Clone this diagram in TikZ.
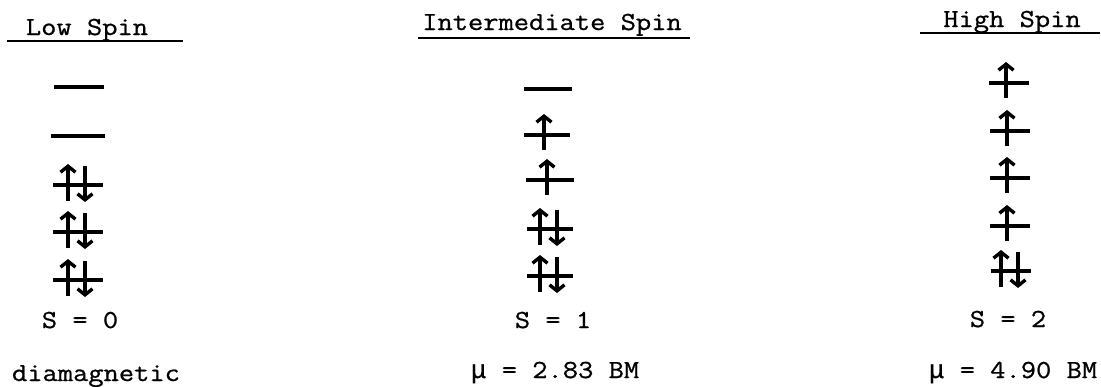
\documentclass[tikz,border=0pt]{standalone}
\usepackage{fontspec}
\newfontfamily\twfont{Latin Modern Mono}[FakeBold=0.8,FakeStretch=1.14]
\newfontfamily\mufont{Liberation Mono}[FakeBold=0.6]
\usetikzlibrary{arrows.meta}
\tikzset{
  hw/.store in=\hw, hw=25,
  lvl/.style={line width=4.4pt},
  spin/.style={line width=3.4pt, -{Straight Barb[length=6pt,width=15pt,line width=3.4pt]}},
  lbl/.style={font=\twfont\fontsize{26}{30}\selectfont, inner sep=0pt, anchor=base},
  uline/.style={line width=2pt},
  pics/orbE/.style={code={\draw[lvl] (-\hw,0) -- (\hw,0);}},
  pics/orbU/.style={code={\draw[lvl] (-\hw,0) -- (\hw,0);
      \draw[spin] (-3,15) -- (-3,-21);}},
  pics/orbP/.style={code={\draw[lvl] (-\hw,0) -- (\hw,0);
      \draw[spin] (-10,16) -- (-10,-21);
      \draw[spin] (7,-19) -- (7,17);}}
}
\begin{document}
\begin{tikzpicture}[x=1pt,y=-1pt]
\useasboundingbox (0,0) rectangle (1101,386);
% titles
\node[lbl] (tLow) at (87,35) {Low Spin};
\draw[uline] (7,41) -- (183,41);
\node[lbl] (tInt) at (552,30) {Intermediate Spin};
\draw[uline] (418,38) -- (690,38);
\node[lbl] (tHigh) at (1012,27) {High Spin};
\draw[uline] (920,33) -- (1100,33);
% low spin
\pic[hw=25] at (79,87) {orbE};
\pic[hw=27] at (78,136) {orbE};
\pic[hw=25] at (78,185) {orbP};
\pic[hw=25] at (78,232) {orbP};
\pic[hw=25] at (78,280) {orbP};
% intermediate spin
\pic[hw=24] at (548,89) {orbE};
\pic[hw=23] at (547,135) {orbU};
\pic[hw=24] at (550,180) {orbU};
\pic[hw=23] at (550,229) {orbP};
\pic[hw=23] at (550,276) {orbP};
% high spin
\pic[hw=20] at (1009,83) {orbU};
\pic[hw=20] at (1010,131) {orbU};
\pic[hw=20] at (1010,178) {orbU};
\pic[hw=20] at (1010,226) {orbU};
\pic[hw=20] at (1011,271) {orbP};
% spin values
\node[lbl] (sLow) at (80,328) {S = 0};
\node[lbl] (sInt) at (553,328) {S = 1};
\node[lbl] (sHigh) at (1008,327) {S = 2};
% moments
\node[lbl] (mLow) at (96,381) {diamagnetic};
\node[lbl] (mInt) at (555,378) {{\mufont μ} = 2.83 BM};
\node[lbl] (mHigh) at (1013,378) {{\mufont μ} = 4.90 BM};
\end{tikzpicture}
\end{document}
